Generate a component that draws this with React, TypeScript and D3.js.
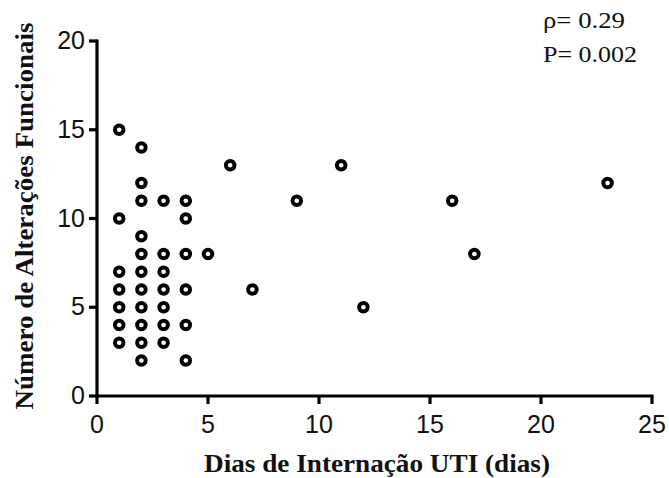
import React from "react";
import * as d3 from "d3";

const diasUTI = [1,1,1,1,1,1,1, 2,2,2,2,2,2,2,2,2,2,2, 3,3,3,3,3,3,3, 4,4,4,4,4,4, 5,6,7,9,11,12,16,17,23];
const alteracoes = [15,10,7,6,5,4,3, 14,12,11,9,8,7,6,5,4,3,2, 11,8,7,6,5,4,3, 11,10,8,6,4,2, 8,13,6,11,13,5,11,8,12];
const xTicks = [0,5,10,15,20,25];
const yTicks = [0,5,10,15,20];
const annotations = ["ρ= 0.29", "P= 0.002"];

export default function App() {
  const W = 669, H = 478;
  const x = d3.scaleLinear().domain([0, 25]).range([97, 652]);
  const y = d3.scaleLinear().domain([0, 20]).range([396, 41]);
  const axisW = 3.2;
  const serif = "Liberation Serif, Times New Roman, serif";
  const sans = "Liberation Sans, Arial, sans-serif";
  return (
    <svg width={W} height={H} style={{ position: "absolute", left: 0, top: 0, background: "#fff" }}>
      <line x1={x(0)} x2={x(25) + 1.6} y1={y(0)} y2={y(0)} stroke="#000" strokeWidth={axisW} />
      <line x1={x(0)} x2={x(0)} y1={y(0)} y2={y(20) - 1.6} stroke="#000" strokeWidth={axisW} />
      {xTicks.map(t => (
        <g key={"x" + t}>
          <line x1={x(t)} x2={x(t)} y1={y(0)} y2={y(0) + 8} stroke="#000" strokeWidth={axisW} />
          <text x={x(t)} y={y(0) + 37} textAnchor="middle" fontFamily={sans} fontSize={25} fill="#111">{t}</text>
        </g>
      ))}
      {yTicks.map(t => (
        <g key={"y" + t}>
          <line x1={x(0) - 8} x2={x(0)} y1={y(t)} y2={y(t)} stroke="#000" strokeWidth={axisW} />
          <text x={x(0) - 12} y={y(t) + 8} textAnchor="end" fontFamily={sans} fontSize={25} fill="#111">{t}</text>
        </g>
      ))}
      {diasUTI.map((d, i) => (
        <circle key={i} cx={x(d)} cy={y(alteracoes[i])} r={4.3} fill="none" stroke="#000" strokeWidth={3.9} />
      ))}
      <text x={377} y={472} textAnchor="middle" fontFamily={serif} fontWeight="bold" fontSize={26} textLength={346} lengthAdjust="spacingAndGlyphs" fill="#111">Dias de Internação UTI (dias)</text>
      <text transform={`translate(33,216) rotate(-90)`} textAnchor="middle" fontFamily={serif} fontWeight="bold" fontSize={26} textLength={387} lengthAdjust="spacingAndGlyphs" fill="#111">Número de Alterações Funcionais</text>
      <text x={543} y={28} fontFamily={serif} fontSize={23} textLength={82} lengthAdjust="spacingAndGlyphs" fill="#111">{annotations[0]}</text>
      <text x={543} y={62} fontFamily={serif} fontSize={23} textLength={94} lengthAdjust="spacingAndGlyphs" fill="#111">{annotations[1]}</text>
    </svg>
  );
}
